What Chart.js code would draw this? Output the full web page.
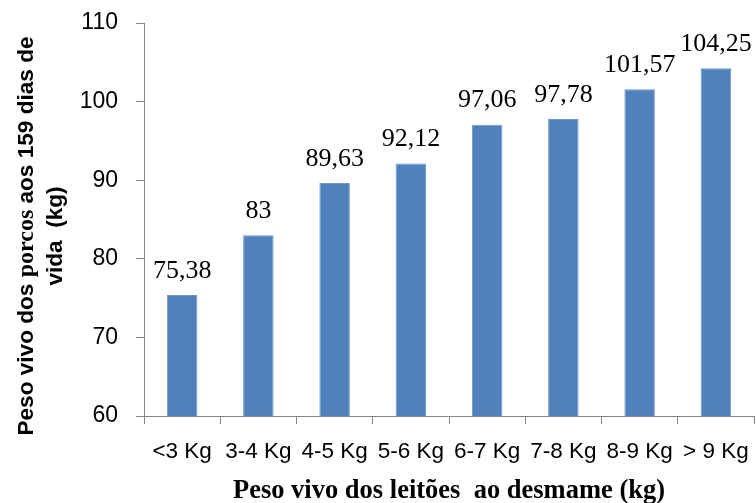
<!DOCTYPE html>
<html>
<head>
<meta charset="utf-8">
<script src="https://cdn.jsdelivr.net/npm/chart.js@4/dist/chart.umd.min.js"></script>
<style>
  html, body { margin: 0; padding: 0; background: #fff; }
  #wrap { width: 756px; height: 503px; }
</style>
</head>
<body>
<div id="wrap"><canvas id="c" width="756" height="503"></canvas></div>
<script>
// Weaning weight classes and live weight at 159 days (kg)
const categories = ['<3 Kg', '3-4 Kg', '4-5 Kg', '5-6 Kg', '6-7 Kg', '7-8 Kg', '8-9 Kg', '> 9 Kg'];
const weights = [75.38, 83, 89.63, 92.12, 97.06, 97.78, 101.57, 104.25];
const yTicks = [60, 70, 80, 90, 100, 110];

const xTitle = 'Peso vivo dos leitões  ao desmame (kg)';
// first line of the y title is written in mixed fonts
const yTitleLine1 = [
  { text: 'Peso vivo dos ', serif: false },
  { text: 'porcos', serif: true },
  { text: ' aos 159 dias de', serif: false }
];
const yTitleLine2 = 'vida  (kg)';

const SANS = '"Liberation Sans", Arial, sans-serif';
const SERIF = '"Liberation Serif", "Times New Roman", serif';
const AXIS_GREY = '#868686';

function fmt(v) {
  return String(v).replace('.', ',');
}

// keep the plot area fixed: no extra room for label overflow
function noScalePadding(scale) {
  scale.paddingTop = 0;
  scale.paddingBottom = 0;
  scale.paddingLeft = 0;
  scale.paddingRight = 0;
}

const annotate = {
  id: 'annotate',
  afterDatasetsDraw(chart) {
    const ctx = chart.ctx;
    const meta = chart.getDatasetMeta(0);
    ctx.save();
    ctx.fillStyle = '#000';
    ctx.font = '26px ' + SERIF;
    ctx.textAlign = 'center';
    ctx.textBaseline = 'alphabetic';
    meta.data.forEach((bar, i) => {
      ctx.fillText(fmt(weights[i]), bar.x, bar.y - 17.5);
    });
    ctx.restore();
  },
  afterDraw(chart) {
    const ctx = chart.ctx;
    const area = chart.chartArea;
    ctx.save();
    ctx.fillStyle = '#000';

    // x axis title
    ctx.font = 'bold 26.5px ' + SERIF;
    ctx.textAlign = 'center';
    ctx.textBaseline = 'alphabetic';
    ctx.fillText(xTitle, (area.left + area.right) / 2, 498);

    // y axis title, rotated
    const cy = 236;
    const sansBold = 'bold 22.6px ' + SANS;
    const serifBold = 'bold 24px ' + SERIF;
    ctx.save();
    ctx.translate(33, cy);
    ctx.rotate(-Math.PI / 2);
    ctx.textAlign = 'left';
    let total = 0;
    yTitleLine1.forEach(s => { ctx.font = s.serif ? serifBold : sansBold; total += ctx.measureText(s.text).width; });
    let x = -total / 2;
    yTitleLine1.forEach(s => {
      ctx.font = s.serif ? serifBold : sansBold;
      ctx.fillText(s.text, x, 0);
      x += ctx.measureText(s.text).width;
    });
    ctx.restore();

    ctx.save();
    ctx.translate(62, cy);
    ctx.rotate(-Math.PI / 2);
    ctx.textAlign = 'center';
    ctx.font = sansBold;
    ctx.fillText(yTitleLine2, 0, 0);
    ctx.restore();

    ctx.restore();
  }
};

new Chart(document.getElementById('c'), {
  type: 'bar',
  data: {
    labels: categories,
    datasets: [{
      data: weights,
      backgroundColor: '#4F81BD',
      borderColor: '#6D97CB',
      borderWidth: { top: 1, left: 1, right: 1, bottom: 0 },
      categoryPercentage: 1.0,
      barPercentage: 0.4
    }]
  },
  options: {
    responsive: false,
    animation: false,
    devicePixelRatio: 1,
    layout: { padding: { top: 23, right: 2, left: 0, bottom: 0 } },
    plugins: {
      legend: { display: false },
      tooltip: { enabled: false }
    },
    scales: {
      x: {
        grid: { drawOnChartArea: false, drawTicks: true, tickLength: 8, color: AXIS_GREY, offset: true },
        border: { display: true, color: AXIS_GREY, width: 1 },
        ticks: { color: '#000', font: { family: SANS, size: 22.5 }, padding: 14, maxRotation: 0, autoSkip: false },
        afterFit(scale) { scale.height = 87; noScalePadding(scale); }
      },
      y: {
        min: 60,
        max: 110,
        afterBuildTicks(scale) { scale.ticks = yTicks.map(v => ({ value: v })); },
        grid: { drawOnChartArea: false, drawTicks: true, tickLength: 8, color: AXIS_GREY },
        border: { display: true, color: AXIS_GREY, width: 1 },
        ticks: { color: '#000', font: { family: SANS, size: 23 }, padding: 18 },
        afterFit(scale) { scale.width = 144; noScalePadding(scale); }
      }
    }
  },
  plugins: [annotate]
});
</script>
</body>
</html>
